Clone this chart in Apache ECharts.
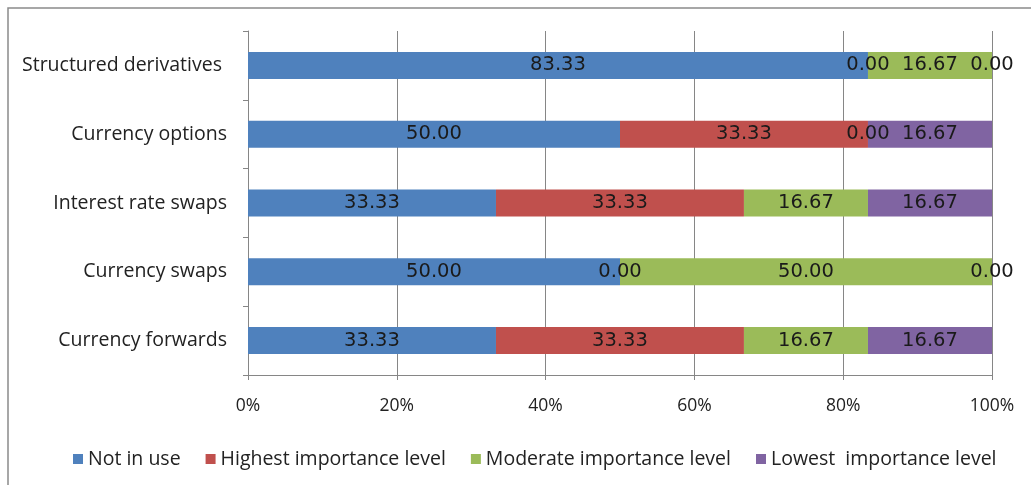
<!DOCTYPE html>
<html>
<head>
<meta charset="utf-8">
<script src="https://cdn.jsdelivr.net/npm/echarts@6/dist/echarts.min.js"></script>
<style>
  html, body { margin: 0; padding: 0; background: #fff; }
  #chart { width: 1031px; height: 485px; }
</style>
</head>
<body>
<div id="chart"></div>
<script>
// Instruments, bottom to top
const categories = ['Currency forwards', 'Currency swaps', 'Interest rate swaps', 'Currency options', 'Structured derivatives '];
const seriesNames = ['Not in use', 'Highest importance level', 'Moderate importance level', 'Lowest  importance level'];
const notInUse = [33.33, 50.00, 33.33, 50.00, 83.33];
const highest = [33.33, 0.00, 33.33, 33.33, 0.00];
const moderate = [16.67, 50.00, 16.67, 0.00, 16.67];
const lowest = [16.67, 0.00, 16.67, 16.67, 0.00];
const xTicks = [0, 20, 40, 60, 80, 100];
const colors = ['#4F81BD', '#C0504D', '#9BBB59', '#8064A2'];

const values = [notInUse, highest, moderate, lowest];
const chart = echarts.init(document.getElementById('chart'), null, { renderer: 'canvas' });

const axisGray = '#868686';
const uiFont = '"Open Sans", "Liberation Sans", sans-serif';

chart.setOption({
  animation: false,
  color: colors,
  graphic: [{
    type: 'rect',
    shape: { x: 8, y: 8, width: 1100, height: 600 },
    style: { fill: 'none', stroke: '#8a8a8a', lineWidth: 1.5 },
    silent: true
  }],
  grid: { left: 248, right: 39, top: 31, bottom: 110 },
  legend: {
    data: seriesNames,
    left: 68,
    bottom: 11,
    icon: 'rect',
    itemWidth: 10,
    itemHeight: 10,
    itemGap: 25,
    textStyle: { fontFamily: uiFont, fontSize: 19.5, color: '#222' }
  },
  xAxis: {
    type: 'value',
    min: xTicks[0],
    max: xTicks[xTicks.length - 1],
    interval: xTicks[1] - xTicks[0],
    axisLine: { show: true, lineStyle: { color: axisGray, width: 1 } },
    axisTick: { show: true, length: 5, lineStyle: { color: axisGray } },
    splitLine: { show: true, lineStyle: { color: axisGray, width: 1 } },
    axisLabel: {
      formatter: '{value}%',
      margin: 22,
      fontFamily: uiFont,
      fontSize: 17.5,
      color: '#222'
    }
  },
  yAxis: {
    type: 'category',
    data: categories,
    axisLine: { show: true, lineStyle: { color: axisGray, width: 1 } },
    axisTick: { show: true, length: 5, lineStyle: { color: axisGray } },
    axisLabel: {
      margin: 21,
      fontFamily: uiFont,
      fontSize: 19.5,
      color: '#222'
    }
  },
  series: seriesNames.map((name, i) => ({
    name: name,
    type: 'bar',
    stack: 'total',
    barWidth: 27,
    data: values[i],
    label: {
      show: true,
      position: 'inside',
      formatter: p => p.value.toFixed(2),
      fontFamily: '"DejaVu Sans", Verdana, sans-serif',
      fontSize: 19.5,
      color: '#1a1a1a'
    }
  }))
});
</script>
</body>
</html>
